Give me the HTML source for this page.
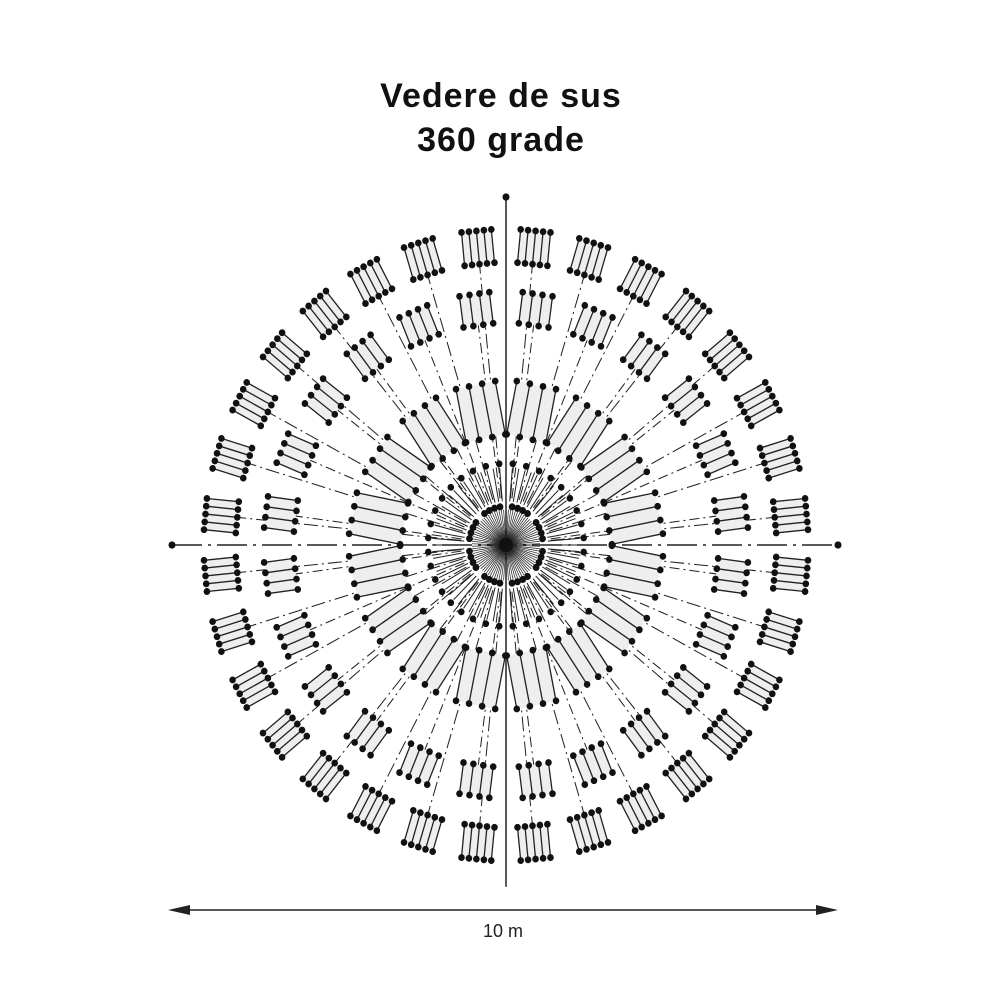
<!DOCTYPE html>
<html><head><meta charset="utf-8"><style>
body{margin:0;background:#fff;width:1000px;height:1000px;overflow:hidden}
svg{position:absolute;left:0;top:0}
.t{font-family:"Liberation Sans",sans-serif;font-weight:bold;font-size:34px;letter-spacing:1px;fill:#111;text-anchor:middle}
</style></head><body>
<svg id="s" width="1000" height="1000" xmlns="http://www.w3.org/2000/svg">
<text class="t" x="501" y="107">Vedere de sus</text>
<text class="t" x="501" y="151">360 grade</text>
<g id="g" transform="translate(506,545) scale(1,1.045)"></g>
<line x1="172" y1="910" x2="834" y2="910" stroke="#222" stroke-width="1.5"/>
<polygon points="168,910 190,905 190,915" fill="#222"/>
<polygon points="838,910 816,905 816,915" fill="#222"/>
<text x="503" y="937" font-family="Liberation Sans,sans-serif" font-size="18" text-anchor="middle" fill="#222">10 m</text>
</svg>
<script>
var g=document.getElementById('g'),h='';
function P(a,r){a=a*Math.PI/180;return [r*Math.sin(a),-r*Math.cos(a)];}
function dot(x,y,r){h+='<circle cx="'+x.toFixed(1)+'" cy="'+y.toFixed(1)+'" r="'+(r||3.3)+'" fill="#111"/>';}
function ln(a,b,w,d){h+='<line x1="'+a[0].toFixed(1)+'" y1="'+a[1].toFixed(1)+'" x2="'+b[0].toFixed(1)+'" y2="'+b[1].toFixed(1)+'" stroke="#222" stroke-width="'+(w||1)+'"'+(d?' stroke-dasharray="'+d+'"':'')+'/>';}
function blk(a,r1,r2,wd,n){
  var rad=a*Math.PI/180,ux=Math.sin(rad),uy=-Math.cos(rad),tx=Math.cos(rad),ty=Math.sin(rad);
  var c=[];
  for(var i=0;i<n;i++){var o=-wd/2+wd*i/(n-1);
    var p1=[ux*r1+tx*o,uy*r1+ty*o],p2=[ux*r2+tx*o,uy*r2+ty*o];c.push([p1,p2]);}
  h+='<polygon points="'+[c[0][0],c[n-1][0],c[n-1][1],c[0][1]].map(function(p){return p[0].toFixed(1)+','+p[1].toFixed(1)}).join(' ')+'" fill="#eee"/>';
  c.forEach(function(q){ln(q[0],q[1],1.3);});
  c.forEach(function(q){dot(q[0][0],q[0][1]);dot(q[1][0],q[1][1]);});
}
for(var i=0;i<32;i++){var a=5.625+i*11.25;ln(P(a,45),P(a,300),1,'14 4 2 4');}
for(var i=0;i<24;i++){var a=7.5+i*15;ln(P(a,45),P(a,240),1,'10 4 2 4');}
for(var i=0;i<72;i++){var a=i*5;ln(P(a,42),P(a,74),1);}
ln([0,-333],[0,327],1.5);dot(0,-333,3.5);
ln([-334,0],[332,0],1.5,'30 6 3 6');dot(-334,0,3.5);dot(332,0,3.5);
for(var i=0;i<90;i++){var a=i*4;ln([0,0],P(a,34),0.7);}
h+='<circle r="7" fill="#111"/>';
for(var k=0;k<8;k++){for(var j=0;j<4;j++){var a=k*45+22.5-13+j*8.7;var p=P(a,37);dot(p[0],p[1],3.4);}}
for(var i=0;i<36;i++){var p=P(i*10+5,78);dot(p[0],p[1],3.3);}
for(var i=0;i<16;i++)blk(11.25+i*22.5,104,156,40,4);
for(var i=0;i<24;i++)blk(7.5+i*15,212,242,30,4);
for(var i=0;i<32;i++)blk(5.625+i*11.25,270,302,30,5);
g.innerHTML=h;
</script>
</body></html>
